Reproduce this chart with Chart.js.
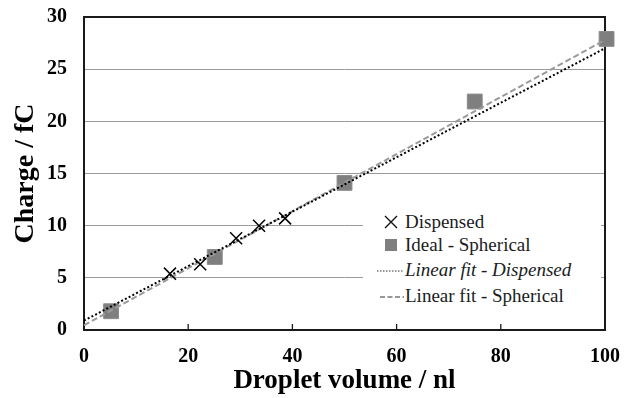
<!DOCTYPE html>
<html><head><meta charset="utf-8">
<script src="https://cdn.jsdelivr.net/npm/chart.js@4.4.1/dist/chart.umd.min.js"></script>
<style>
html,body{margin:0;padding:0;background:#fff;}
#wrap{position:relative;width:625px;height:398px;}
#legend{position:absolute;left:363px;top:197px;width:238px;height:124px;background:#fff;font-family:"Liberation Serif","DejaVu Serif","Noto Serif",serif;font-size:19px;color:#1c1c1c;}
.item{position:absolute;left:14px;height:24px;display:flex;align-items:center;white-space:nowrap;}
.item svg{width:28px;height:24px;flex:none;}
</style></head><body>
<div id="wrap"><canvas id="c" width="625" height="398"></canvas><div id="legend"></div></div>
<script>
const volumeTicks = [0, 20, 40, 60, 80, 100];
const chargeTicks = [0, 5, 10, 15, 20, 25, 30];
const dispensedVolume = [16.5, 22.3, 29.2, 33.6, 38.6];
const dispensedCharge = [5.4, 6.3, 8.8, 10.0, 10.7];
const sphericalVolume = [5.2, 25.1, 50.0, 75.0, 100.3];
const sphericalCharge = [1.8, 7.0, 14.1, 21.9, 27.9];
const fitVolume = [0, 100];
const fitDispensedCharge = [0.9, 27.0];
const fitSphericalCharge = [0.45, 27.8];
const seriesLabels = ['Dispensed', 'Ideal - Spherical', 'Linear fit - Dispensed', 'Linear fit - Spherical'];
const xTitle = 'Droplet volume / nl';
const yTitle = 'Charge / fC';

const family = '"Liberation Serif", "DejaVu Serif", "Noto Serif", serif';
const pts = (xs, ys) => xs.map((x, i) => ({x: x, y: ys[i]}));

const frame = {
  id: 'frame',
  beforeDatasetsDraw(chart) {
    const {ctx, chartArea: a, scales} = chart;
    ctx.save();
    ctx.strokeStyle = '#1a1a1a';
    ctx.lineWidth = 2;
    ctx.strokeRect(a.left, a.top, a.right - a.left, a.bottom - a.top);
    ctx.lineWidth = 1.3;
    volumeTicks.forEach(v => {
      if (v <= 0 || v >= 100) return;
      const px = scales.x.getPixelForValue(v);
      ctx.beginPath(); ctx.moveTo(px, a.bottom); ctx.lineTo(px, a.bottom - 6); ctx.stroke();
    });
    ctx.restore();
  }
};

const chart = new Chart(document.getElementById('c'), {
  type: 'scatter',
  data: {datasets: [
    {label: seriesLabels[0], data: pts(dispensedVolume, dispensedCharge), pointStyle: 'crossRot', pointRadius: 8.5,
     pointBorderColor: '#000', pointBorderWidth: 1.5, showLine: false, order: 0, clip: false},
    {label: seriesLabels[1], data: pts(sphericalVolume, sphericalCharge), pointStyle: 'rect', pointRadius: 10.5,
     pointBackgroundColor: '#7f7f7f', pointBorderColor: '#8c8c8c', pointBorderWidth: 1, showLine: false, order: 3, clip: false},
    {label: seriesLabels[2], data: pts(fitVolume, fitDispensedCharge), showLine: true, borderColor: '#000', borderWidth: 2,
     borderDash: [2, 2.2], pointRadius: 0, order: 1, clip: false},
    {label: seriesLabels[3], data: pts(fitVolume, fitSphericalCharge), showLine: true, borderColor: '#9a9a9a', borderWidth: 2,
     borderDash: [6, 3], pointRadius: 0, order: 2, clip: false}
  ]},
  options: {
    responsive: false, animation: false, events: [],
    layout: {padding: {top: 17, right: 20, left: 0, bottom: 0}},
    plugins: {legend: {display: false}, tooltip: {enabled: false}},
    scales: {
      x: {
        type: 'linear', min: 0, max: 100,
        afterBuildTicks: s => { s.ticks = volumeTicks.map(v => ({value: v})); },
        ticks: {font: {family, size: 20, weight: 'bold'}, color: '#000', padding: 15, maxRotation: 0},
        grid: {display: false, drawTicks: false},
        border: {display: false},
        title: {display: true, text: xTitle, color: '#000', font: {family, size: 27, weight: 'bold', lineHeight: 1}, padding: {top: 0, bottom: 3}},
        afterFit: s => { s.height = 68; s.paddingLeft = 0; s.paddingRight = 0; }
      },
      y: {
        type: 'linear', min: 0, max: 30,
        afterBuildTicks: s => { s.ticks = chargeTicks.map(v => ({value: v})); },
        ticks: {font: {family, size: 20, weight: 'bold'}, color: '#000', padding: 17},
        grid: {drawTicks: false, color: c => (c.tick && c.tick.value > 0 && c.tick.value < 30) ? '#9a9a9a' : 'rgba(0,0,0,0)'},
        border: {display: false},
        title: {display: true, text: yTitle, color: '#000', font: {family, size: 28, weight: 'bold', lineHeight: 1}, padding: {top: 12, bottom: 0}},
        afterFit: s => { s.width = 84; s.paddingTop = 0; s.paddingBottom = 0; }
      }
    }
  },
  plugins: [frame]
});

const legend = document.getElementById('legend');
const centers = [24.7, 48, 73, 99];
const markers = [
  '<svg viewBox="0 0 28 24"><path d="M8 6 L20 18 M20 6 L8 18" stroke="#111" stroke-width="1.4"/></svg>',
  '<svg viewBox="0 0 28 24"><rect x="8" y="6" width="12" height="12" fill="#7f7f7f"/></svg>',
  '<svg viewBox="0 0 28 24"><line x1="0" y1="13" x2="27" y2="13" stroke="#333" stroke-width="1" stroke-dasharray="1.5,1.5"/></svg>',
  '<svg viewBox="0 0 28 24"><line x1="3" y1="13" x2="27" y2="13" stroke="#777" stroke-width="1.5" stroke-dasharray="5,2.5"/></svg>'
];
chart.data.datasets.forEach((ds, i) => {
  const d = document.createElement('div');
  d.className = 'item';
  d.style.top = (centers[i] - 12) + 'px';
  let text = ds.label;
  if (i === 2) {
    const parts = text.split(' - ');
    text = '<i>' + parts[0] + '</i> - <i>' + parts[1] + '</i>';
  }
  d.innerHTML = markers[i] + '<span>' + text + '</span>';
  legend.appendChild(d);
});
</script>
</body></html>
